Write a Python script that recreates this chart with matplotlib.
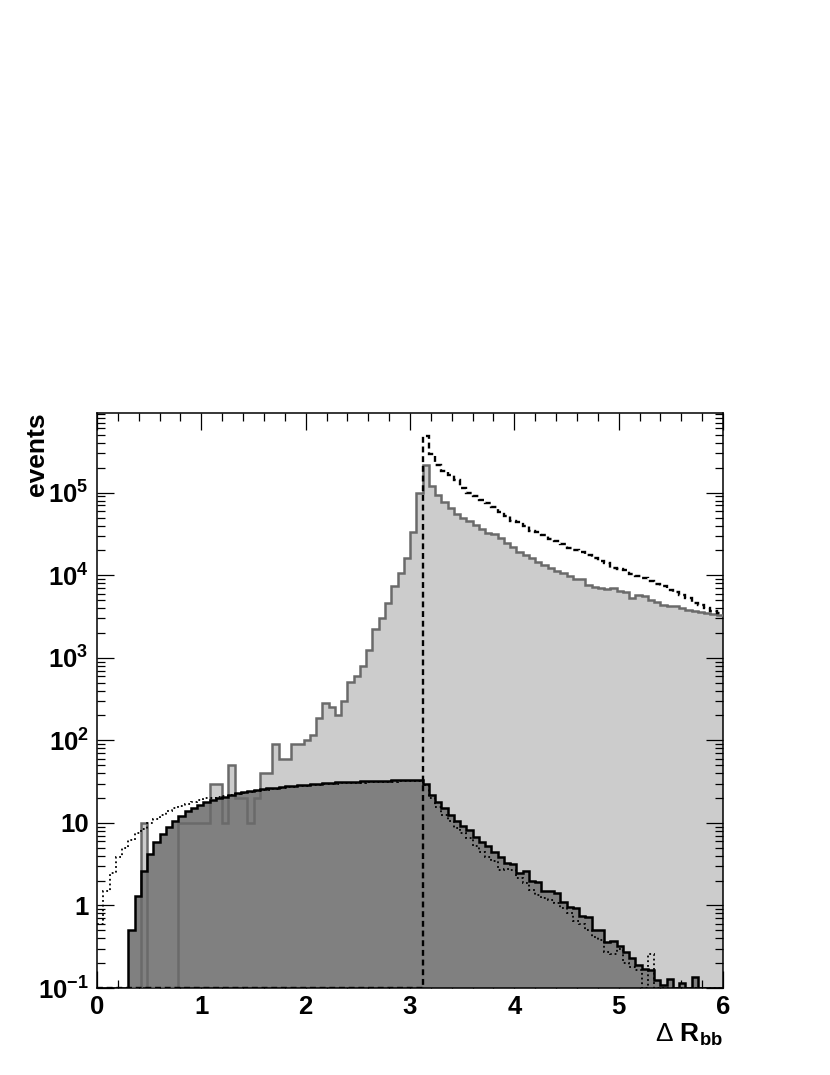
import numpy as np
import matplotlib
matplotlib.use('Agg')
import matplotlib.pyplot as plt
from matplotlib.ticker import FixedLocator, MultipleLocator, LogLocator, NullFormatter, FuncFormatter

plt.rcParams['font.family'] = ['Liberation Sans', 'DejaVu Sans']
plt.rcParams['mathtext.fontset'] = 'custom'
plt.rcParams['mathtext.rm'] = 'Liberation Sans'
plt.rcParams['mathtext.bf'] = 'Liberation Sans:bold'
plt.rcParams['mathtext.it'] = 'Liberation Sans:italic'
plt.rcParams['axes.unicode_minus'] = False

# 100 bins of width 0.06 in Delta R_bb
edges = np.linspace(0, 6, 101)

# light grey histogram
light = ([0] * 7 + [10] + [0] * 5 + [10] * 5 +
         [30, 30, 10, 50, 20, 20, 10, 20, 40, 40, 90, 60, 60, 90, 90, 100, 115, 185,
          280, 250, 200, 300, 510, 600, 800, 1250, 2250, 3000, 4600, 7500, 10600,
          16000, 33500, 99000, 216000, 121000, 93000, 76000, 65000, 55000, 50000,
          45000, 41000, 36600, 32400, 32000, 28200, 24500, 21700, 18900, 17700,
          16100, 14500, 13150, 12200, 11100, 10600, 9860, 9100, 9000, 7700, 7200,
          7000, 6900, 6950, 6400, 6350, 5300, 5800, 5600, 4950, 4700, 4400, 4270,
          4250, 4000, 3820, 3640, 3620, 3480, 3400, 3320])

# dark grey histogram
dark = ([0] * 5 +
        [0.5, 1.3, 2.6, 4.2, 5.8, 7.3, 8.9, 10.6, 12.2, 14.1, 15.1, 16.5, 17.8, 19.0,
         19.9, 20.8, 21.8, 22.8, 23.6, 24.4, 25.0, 25.6, 26.2, 26.8, 27.3, 27.8,
         28.3, 28.7, 29.1, 29.5, 30.0, 30.3, 30.6, 30.9, 31.2, 31.5, 31.7, 31.9,
         32.1, 32.3, 32.4, 32.6, 32.8, 33.0, 33.3, 33.5, 33.4, 29.5, 21.5, 18.0,
         15.2, 12.5, 10.4, 9.2, 8.2, 6.8, 5.9, 5.2, 4.4, 3.9, 3.3, 3.2, 2.5, 2.6,
         2.0, 1.95, 1.5, 1.48, 1.4, 1.1, 0.95, 0.92, 0.75, 0.72, 0.5, 0.5, 0.36,
         0.37, 0.32, 0.27, 0.23, 0.19, 0.17, 0.165, 0.125, 0.108, 0.127, 0, 0.114,
         0, 0.135] + [0] * 4)

# dotted histogram
dotted = ([0.6, 1.5, 2.5, 3.9, 5.0, 6.2, 7.5, 8.5, 10.0, 11.0, 12.5, 14.0, 15.0,
           16.0, 17.0, 18.0, 19.0, 19.8, 20.3, 20.6,
           20.9, 21.5, 22.2, 22.9, 23.5, 24.1, 24.7, 25.3, 25.9, 26.4, 26.9, 27.3,
           27.7, 28.1, 28.5, 28.9, 29.2, 29.5, 29.8, 30.1, 30.4, 30.6, 30.8, 31.0,
           31.2, 31.3, 31.5, 31.7, 31.9, 32.1, 32.3, 32.2, 29.0, 20, 15.5, 12.5,
           10.4, 8.6, 7.6, 6.5, 5.2, 4.5, 3.9, 3.5, 2.7, 2.8, 2.7, 2.15, 1.86, 1.54,
           1.34, 1.22, 1.15, 1.08, 0.92, 0.8, 0.65, 0.6, 0.5, 0.42, 0.38, 0.27, 0.26,
           0.3, 0.2, 0.18, 0.165, 0, 0.26] + [0] * 11)

# dashed histogram
dashed = ([0] * 52 +
          [490000, 290000, 218000, 181000, 165000, 144000, 114000, 99000, 90000,
           82000, 75000, 66400, 58300, 51600, 45800, 44300, 39000, 34600, 33500,
           31000, 27700, 25700, 23900, 21400, 20000, 19000, 17500, 16100, 15000,
           14000, 12400, 12000, 11500, 10400, 9800, 9300, 8600, 7800, 7400, 6700,
           6200, 5800, 5300, 4600, 4300, 4000, 3640, 3450])

ymin, ymax = 0.1, 9.3e5

fig = plt.figure(figsize=(8.3, 10.75), dpi=100)
ax = fig.add_axes([0.1169, 0.0809, 0.7542, 0.5352])
ax.set_yscale('log')


def clip(v):
    return np.maximum(np.asarray(v, dtype=float), ymin)


ax.stairs(clip(light), edges, fill=True, baseline=ymin, color='#cccccc', zorder=1)
ax.stairs(clip(dark), edges, fill=True, baseline=ymin, color='#808080', zorder=2)
ax.stairs(clip(light), edges, baseline=None, color='#6a6a6a', lw=1.8, zorder=3)
ax.stairs(clip(dark), edges, baseline=None, color='black', lw=1.8, zorder=4)
ax.stairs(clip(dotted), edges, baseline=None, color='black', lw=1.3,
          linestyle=(0, (1, 1.6)), zorder=5)
ax.stairs(clip(dashed), edges, baseline=None, color='black', lw=1.7,
          linestyle=(0, (2.5, 1.6)), zorder=6)

ax.set_xlim(0, 6)
ax.set_ylim(ymin, ymax)

ax.xaxis.set_major_locator(MultipleLocator(1))
ax.xaxis.set_minor_locator(MultipleLocator(0.2))
ax.yaxis.set_major_locator(FixedLocator([0.1, 1, 10, 1e2, 1e3, 1e4, 1e5]))
ax.yaxis.set_minor_locator(LogLocator(base=10, subs=np.arange(2, 10), numticks=20))
ax.yaxis.set_minor_formatter(NullFormatter())


def ylab(v, pos):
    e = int(round(np.log10(v)))
    if e == 0:
        return '1'
    if e == 1:
        return '10'
    return r'$\mathbf{10^{%d}}$' % e


ax.yaxis.set_major_formatter(FuncFormatter(ylab))
ax.xaxis.set_major_formatter(FuncFormatter(lambda v, p: '%d' % round(v)))

ax.tick_params(which='both', direction='in', top=True, right=True, width=0.9)
ax.tick_params(which='major', length=12.5)
ax.tick_params(which='minor', length=6)
ax.tick_params(axis='x', which='major', pad=5)
ax.tick_params(axis='y', which='major', pad=6)
for lab in ax.get_xticklabels() + ax.get_yticklabels():
    lab.set_fontsize(18.5)
    lab.set_fontweight('bold')

for s in ax.spines.values():
    s.set_linewidth(1.1)

ax.set_ylabel('events', loc='top', fontsize=19, fontweight='bold')
ax.yaxis.set_label_coords(-0.076, 1.0)
ax.set_xlabel(r'$\Delta\ \mathbf{R_{bb}}$', loc='right', fontsize=19)
ax.xaxis.set_label_coords(1.0, -0.058)
ax.xaxis.label.set_va('top')

fig.savefig('out.png', dpi=100)
